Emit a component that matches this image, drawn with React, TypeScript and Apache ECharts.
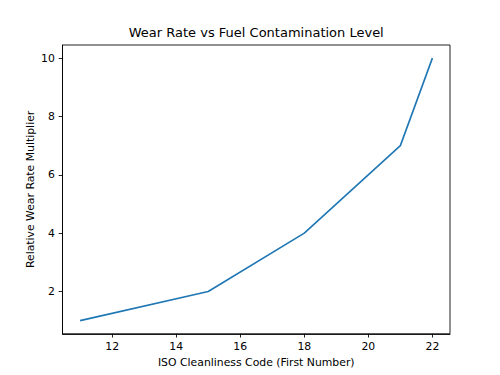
import React, { useEffect, useRef } from "react";
import * as echarts from "echarts";

const isoCodes = [11, 15, 18, 21, 22];
const wearMultiplier = [1, 2, 4, 7, 10];
const xTicks = [12, 14, 16, 18, 20, 22];
const yTicks = [2, 4, 6, 8, 10];

const FONT = "DejaVu Sans";

export default function App() {
  const ref = useRef<HTMLDivElement>(null);
  useEffect(() => {
    if (!ref.current) return;
    const chart = echarts.init(ref.current, null, { renderer: "svg" });
    chart.setOption({
      animation: false,
      backgroundColor: "#ffffff",
      textStyle: { fontFamily: FONT },
      grid: { left: 62.5, right: 50, top: 45, bottom: 41.25, containLabel: false },
      graphic: [
        {
          type: "text",
          x: 256.25,
          y: 38.5,
          style: {
            text: "Wear Rate vs Fuel Contamination Level",
            fontFamily: FONT,
            fontSize: 13,
            fill: "#000",
            align: "center",
            verticalAlign: "bottom",
          },
        },
        {
          type: "text",
          x: 30.5,
          y: 189.4,
          rotation: Math.PI / 2,
          style: {
            text: "Relative Wear Rate Multiplier",
            fontFamily: FONT,
            fontSize: 10.85,
            fill: "#000",
            align: "center",
            verticalAlign: "middle",
          },
        },
        {
          type: "rect",
          shape: { x: 62.5, y: 45, width: 500 - 50 - 62.5, height: 375 - 41.25 - 45 },
          style: { fill: "none", stroke: "#000", lineWidth: 0.87 },
          silent: true,
          z: 10,
        },
      ],
      xAxis: {
        type: "value",
        min: 10.45,
        max: 22.55,
        name: "ISO Cleanliness Code (First Number)",
        nameLocation: "middle",
        nameGap: 22,
        nameTextStyle: { fontFamily: FONT, fontSize: 10.85, color: "#000" },
        axisLine: { show: true, onZero: false, lineStyle: { color: "#000", width: 0.87 } },
        axisTick: { show: true, length: 3.8, customValues: xTicks, lineStyle: { color: "#000", width: 0.87 } },
        axisLabel: { customValues: xTicks, margin: 7.6, fontFamily: FONT, fontSize: 10.85, color: "#000" },
        splitLine: { show: false },
      },
      yAxis: {
        type: "value",
        min: 0.55,
        max: 10.45,
        axisLine: { show: true, onZero: false, lineStyle: { color: "#000", width: 0.87 } },
        axisTick: { show: true, length: 3.8, customValues: yTicks, lineStyle: { color: "#000", width: 0.87 } },
        axisLabel: { customValues: yTicks, margin: 7.6, fontFamily: FONT, fontSize: 10.85, color: "#000" },
        splitLine: { show: false },
      },
      series: [
        {
          type: "line",
          data: isoCodes.map((x, i) => [x, wearMultiplier[i]]),
          showSymbol: false,
          symbol: "none",
          lineStyle: { color: "#1f77b4", width: 1.63 },
          itemStyle: { color: "#1f77b4" },
        },
      ],
    });
    return () => chart.dispose();
  }, []);
  return (
    <div
      ref={ref}
      style={{ position: "absolute", left: 0, top: 0, width: 500, height: 375 }}
    />
  );
}
